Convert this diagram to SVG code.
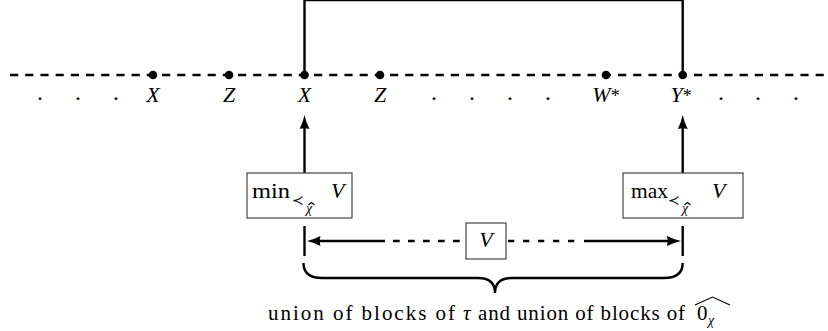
<svg xmlns="http://www.w3.org/2000/svg" width="828" height="331" viewBox="0 0 828 331">
<defs>
<marker id="ah" markerUnits="userSpaceOnUse" viewBox="0 0 14 10" markerWidth="14" markerHeight="10" refX="6" refY="5" orient="auto">
<path d="M14,5 Q7,3.6 0,0 Q1.5,5 0,10 Q7,6.4 14,5 Z" fill="#000"/>
</marker>
</defs>
<rect width="828" height="331" fill="#fff"/>

<g id="line">
<line x1="10" y1="75" x2="828" y2="75" stroke="#000" stroke-width="2.4" stroke-dasharray="8.2 7"/>
<g fill="#000">
<circle cx="153" cy="75" r="4.3"/>
<circle cx="229" cy="75" r="4.3"/>
<circle cx="304.5" cy="75" r="4.3"/>
<circle cx="380" cy="75" r="4.3"/>
<circle cx="606" cy="75" r="4.3"/>
<circle cx="682.7" cy="75" r="4.3"/>
</g>
</g>

<g id="labels" text-anchor="middle" fill="#000">
<text x="40" y="100" font-family="Liberation Serif" font-size="24">.</text>
<text x="78" y="100" font-family="Liberation Serif" font-size="24">.</text>
<text x="116" y="100" font-family="Liberation Serif" font-size="24">.</text>
<text x="153" y="102" font-family="Liberation Serif" font-size="22" font-style="italic">X</text>
<text x="229" y="102" font-family="Liberation Serif" font-size="22" font-style="italic">Z</text>
<text x="304.5" y="102" font-family="Liberation Serif" font-size="22" font-style="italic">X</text>
<text x="380" y="102" font-family="Liberation Serif" font-size="22" font-style="italic">Z</text>
<text x="434" y="100" font-family="Liberation Serif" font-size="24">.</text>
<text x="472" y="100" font-family="Liberation Serif" font-size="24">.</text>
<text x="510" y="100" font-family="Liberation Serif" font-size="24">.</text>
<text x="548" y="100" font-family="Liberation Serif" font-size="24">.</text>
<text x="606" y="102" font-family="Liberation Serif" font-size="22" font-style="italic">W<tspan font-style="normal" font-size="18">*</tspan></text>
<text x="681" y="102" font-family="Liberation Serif" font-size="22" font-style="italic">Y<tspan font-style="normal" font-size="18">*</tspan></text>
<text x="721" y="100" font-family="Liberation Serif" font-size="24">.</text>
<text x="758" y="100" font-family="Liberation Serif" font-size="24">.</text>
<text x="796" y="100" font-family="Liberation Serif" font-size="24">.</text>
</g>

<g id="connectors" stroke="#000" stroke-width="2.4" fill="none">
<path d="M304.5,75 V0 H682.7 V75"/>
<line x1="304.5" y1="173" x2="304.5" y2="123" marker-end="url(#ah)"/>
<line x1="682.7" y1="173" x2="682.7" y2="123" marker-end="url(#ah)"/>
<line x1="304.5" y1="226" x2="304.5" y2="256"/>
<line x1="682.7" y1="226" x2="682.7" y2="256"/>
<line x1="385" y1="241" x2="314.5" y2="241" marker-end="url(#ah)"/>
<line x1="393" y1="241" x2="460" y2="241" stroke-dasharray="6.7 8.3"/>
<line x1="508" y1="241" x2="575" y2="241" stroke-dasharray="6.3 8.7"/>
<line x1="584" y1="241" x2="673" y2="241" marker-end="url(#ah)"/>
</g>

<g id="node-min">
<rect x="247" y="173" width="105" height="45" fill="#fff" stroke="#333" stroke-width="1.1"/>
<text x="252" y="198" textLength="38" lengthAdjust="spacingAndGlyphs" font-family="Liberation Serif" font-size="22">min</text>
<text x="292" y="205" font-family="DejaVu Serif" font-size="14">&#8826;</text>
<text x="306" y="213" font-family="Liberation Serif" font-size="14" font-style="italic">&#967;</text>
<path d="M308.5,205 L311.5,202.5 L314.5,205" fill="none" stroke="#000" stroke-width="1.1"/>
<text x="331" y="198" font-family="Liberation Serif" font-size="22" font-style="italic">V</text>
</g>

<g id="node-max">
<rect x="623" y="173" width="120" height="45" fill="#fff" stroke="#333" stroke-width="1.1"/>
<text x="631" y="198" textLength="37" lengthAdjust="spacingAndGlyphs" font-family="Liberation Serif" font-size="22">max</text>
<text x="668" y="205" font-family="DejaVu Serif" font-size="14">&#8826;</text>
<text x="682" y="213" font-family="Liberation Serif" font-size="14" font-style="italic">&#967;</text>
<path d="M684.5,205 L687.5,202.5 L690.5,205" fill="none" stroke="#000" stroke-width="1.1"/>
<text x="712" y="198" font-family="Liberation Serif" font-size="22" font-style="italic">V</text>
</g>

<g id="node-V">
<rect x="466" y="223" width="40" height="36" fill="#fff" stroke="#333" stroke-width="1.1"/>
<text x="486" y="247" text-anchor="middle" font-family="Liberation Serif" font-size="22" font-style="italic">V</text>
</g>

<g id="brace">
<path d="M303.5,263 Q303.5,278 322,278 L478,278 Q495,278 495,293 Q495,278 512,278 L664,278 Q682.7,278 682.7,263" fill="none" stroke="#000" stroke-width="2.4"/>
<text y="320" font-family="Liberation Serif" font-size="21"><tspan x="268" textLength="187">union of blocks of</tspan><tspan x="463" font-style="italic">&#964;</tspan><tspan x="478" textLength="207">and union of blocks of</tspan><tspan x="697">0</tspan><tspan x="708" y="325" font-size="14" font-style="italic">&#967;</tspan></text>
<path d="M695,305 L712.5,297 L730,305" fill="none" stroke="#000" stroke-width="1.1"/>
</g>
</svg>
